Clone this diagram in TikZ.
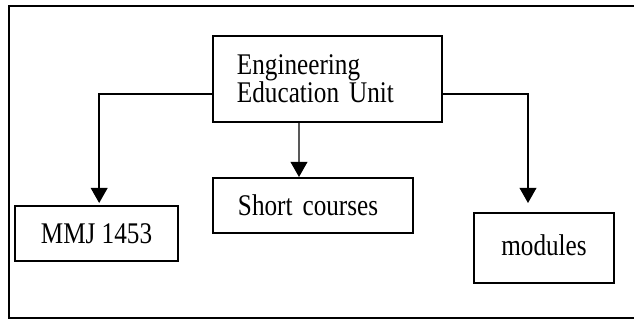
\documentclass[tikz,border=0pt]{standalone}
\usepackage{fontspec}
\setmainfont{Liberation Serif}[FakeStretch=0.84]
\usetikzlibrary{arrows.meta}

\begin{document}
\begin{tikzpicture}[x=0.03cm, y=-0.03cm]
  % Styles
  \tikzstyle{unit}=[rectangle, draw, fill=white, line width=1.7pt, inner ysep=0pt, font=\fontsize{25.6}{24}\selectfont]
  \tikzstyle{arrow}=[-{Triangle[length=0.45cm, width=0.5cm]}, line width=1.2pt]

  \useasboundingbox (0,0) rectangle (634,320);

  % Frame
  \draw[line width=1.5pt] (634,6) -- (9,6) -- (9,318) -- (634,318);

  % Top unit
  \node[unit, text width=5.43cm, inner xsep=0.72cm, align=left, minimum height=2.58cm] (eeu) at (327.5,79) {Engineering\\Education Unit};

  % Units below
  \node[unit, minimum width=4.89cm, minimum height=1.65cm] (mmj) at (96.5,233.5) {MMJ 1453};
  \node[unit, text width=4.5cm, inner xsep=0.75cm, align=left, minimum height=1.65cm] (short) at (313,205.5) {Short courses};
  \node[unit, minimum width=4.2cm, minimum height=2.1cm] (modules) at (544,248) {\raisebox{0.15cm}{modules}};

  \coordinate (rtip) at (528,203);

  % Arrows
  \draw[arrow] ([yshift=-0.45cm]eeu.west) -| ([xshift=0.08cm, yshift=0.06cm]mmj.north);
  \draw[arrow] ([xshift=-0.855cm]eeu.south) -- ([xshift=-0.42cm]short.north);
  \draw[arrow] ([yshift=-0.45cm]eeu.east) -| (rtip);
\end{tikzpicture}
\end{document}
